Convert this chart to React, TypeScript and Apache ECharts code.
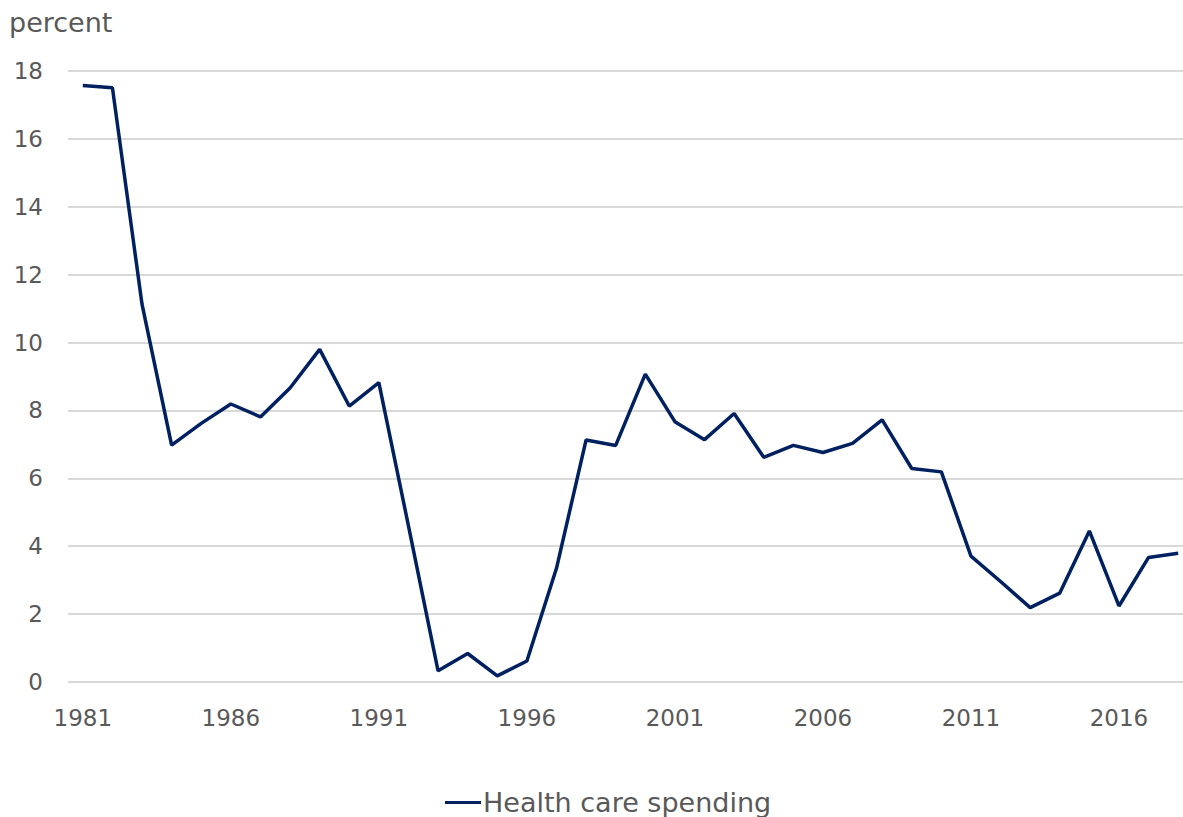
import React, { useEffect, useRef } from "react";
import * as echarts from "echarts";

// Annual growth of health care spending, percent
const years: string[] = [
  "1981", "1982", "1983", "1984", "1985", "1986", "1987", "1988", "1989", "1990",
  "1991", "1992", "1993", "1994", "1995", "1996", "1997", "1998", "1999", "2000",
  "2001", "2002", "2003", "2004", "2005", "2006", "2007", "2008", "2009", "2010",
  "2011", "2012", "2013", "2014", "2015", "2016", "2017", "2018",
];

const healthCareSpending: number[] = [
  17.57, 17.51, 11.13, 6.98, 7.62, 8.19, 7.81, 8.66, 9.8, 8.13,
  8.82, 4.6, 0.33, 0.84, 0.18, 0.62, 3.35, 7.13, 6.97, 9.07,
  7.67, 7.14, 7.91, 6.62, 6.97, 6.76, 7.03, 7.72, 6.29, 6.19,
  3.71, 2.96, 2.19, 2.62, 4.45, 2.24, 3.67, 3.79,
];

const seriesName = "Health care spending";
const unitLabel = "percent";

const FONT = "'DejaVu Sans', sans-serif";
const TEXT = "#595959";
const NAVY = "#002060";

export default function App() {
  const ref = useRef<HTMLDivElement>(null);

  useEffect(() => {
    if (!ref.current) return;
    const chart = echarts.init(ref.current, undefined, { renderer: "svg" });
    chart.setOption({
      animation: false,
      backgroundColor: "#ffffff",
      title: {
        text: unitLabel,
        left: 4,
        top: 4,
        textStyle: { fontFamily: FONT, fontSize: 27, fontWeight: "normal", color: TEXT },
      },
      legend: {
        left: 440,
        top: 784,
        icon: "rect",
        itemWidth: 36,
        itemHeight: 3,
        itemGap: 10,
        textStyle: { fontFamily: FONT, fontSize: 27, color: TEXT, padding: [0, 0, 0, -3] },
        data: [seriesName],
      },
      // the plot runs slightly past the right edge of the visible area
      grid: { left: 68, top: 71, width: 1125, height: 611, containLabel: false },
      xAxis: {
        type: "category",
        data: years,
        boundaryGap: true,
        axisTick: { show: false },
        axisLine: { show: false },
        axisLabel: {
          interval: 4,
          margin: 24,
          fontFamily: FONT,
          fontSize: 23,
          color: TEXT,
        },
      },
      yAxis: {
        type: "value",
        min: 0,
        max: 18,
        interval: 2,
        axisLine: { show: false },
        axisTick: { show: false },
        splitLine: { lineStyle: { color: "#d9d9d9", width: 2 } },
        axisLabel: {
          margin: 25,
          fontFamily: FONT,
          fontSize: 23,
          color: TEXT,
        },
      },
      series: [
        {
          name: seriesName,
          type: "line",
          data: healthCareSpending,
          symbol: "none",
          lineStyle: { color: NAVY, width: 3.5 },
          itemStyle: { color: NAVY },
        },
      ],
    });
    return () => chart.dispose();
  }, []);

  return (
    <div style={{ position: "absolute", left: 0, top: 0, width: 1183, height: 817, overflow: "hidden" }}>
      <div ref={ref} style={{ width: 1200, height: 817 }} />
    </div>
  );
}
